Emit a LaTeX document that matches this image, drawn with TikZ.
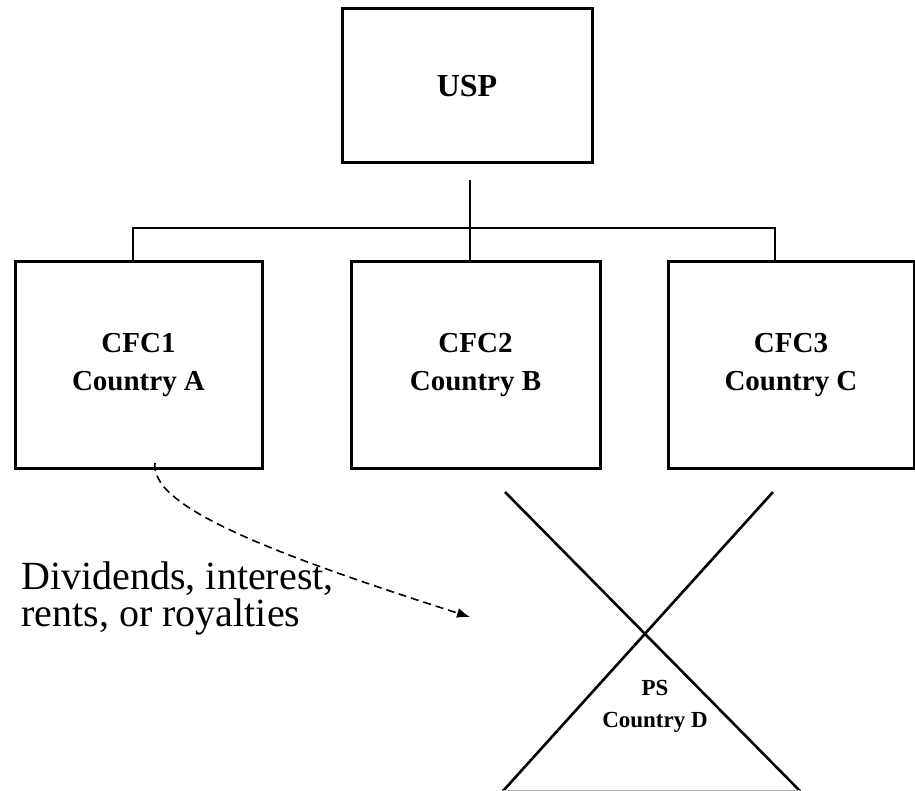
\documentclass[tikz,border=0pt]{standalone}
\usepackage{fontspec}
\setmainfont{Liberation Serif}
\usetikzlibrary{arrows.meta,positioning}

\begin{document}
\begin{tikzpicture}[x=1pt,y=-1pt]
  \tikzset{BoxStyle/.style = {shape        = rectangle,
                              draw         = black,
                              line width   = 3pt,
                              align        = center,
                              inner sep    = 0pt,
                              font         = \fontsize{29}{38}\selectfont\bfseries}}
  \useasboundingbox (0,0) rectangle (915,791);
  %%% HAUT %%%
  \node[BoxStyle, minimum width=250pt, minimum height=154pt, font=\fontsize{32}{38}\selectfont\bfseries](usp) at (467,86){USP};
  %%% FILIALES %%%
  \tikzset{node distance = 86pt}
  \node[BoxStyle, minimum width=247pt, minimum height=206pt](cfc1) at (138.5,365){CFC1\\Country A};
  \node[BoxStyle, minimum width=249pt, minimum height=206pt, right=of cfc1](cfc2){CFC2\\Country B};
  \tikzset{node distance = 65pt}
  \node[BoxStyle, minimum width=246pt, minimum height=206pt, right=of cfc2](cfc3){CFC3\\Country C};
  %
  \coordinate (top) at (470,180);
  \coordinate (bar) at (470,228);
  \draw[line width=2pt] (top) -- (bar);
  \draw[line width=2pt] (cfc1.north -| 133,0) |- (bar) -| (cfc3.north -| 775,0);
  \draw[line width=2pt] (bar) -- (cfc2.north -| bar);
  %%% PS %%%
  \node[font=\fontsize{23}{32}\selectfont\bfseries, align=center](ps) at (655,706){PS\\Country D};
  \coordinate (b1) at (505,492);
  \coordinate (b2) at (800,791);
  \coordinate (c1) at (773,492);
  \coordinate (c2) at (503,791);
  \draw[line width=2.6pt] (b1) -- (b2);
  \draw[line width=2.6pt] (c1) -- (c2);
  \draw[gray!60, line width=1.2pt] (c2) -- (b2);
  %%% PAIEMENTS %%%
  \node[font=\fontsize{40}{37}\selectfont, align=left, anchor=west](pay) at (18,598){Dividends, interest,\\rents, or royalties};
  \coordinate (start) at (155,463);
  \coordinate (stop) at (470,617);
  \draw[line width=1.6pt, dash pattern=on 8pt off 5pt, -{Latex[length=13pt,width=10pt]}]
    (start) .. controls (150,505) and (260,550) .. (stop);
\end{tikzpicture}
\end{document}
